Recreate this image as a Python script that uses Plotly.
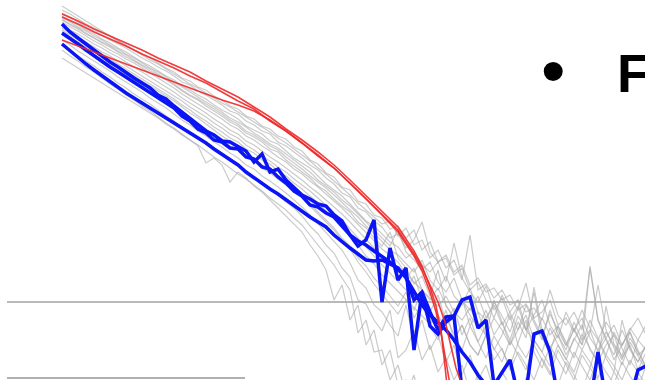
import plotly.graph_objects as go

# Level curves per frequency bin (level axis runs downward)
gray_runs = [
    [6,11,16,21,26,31,36,41,46,50, 55,60,64,69,74,79,84,88,93,98, 103,107,112,117,122,127,132,138,143,149,
     155,161,168,174,181,188,195,203,210,217, 224,221,236,
     228,245,240,258,250,268,260,280,235,290,284,298,290,305,300,312,308,320,290,315,325,312,330,268,320,338,325,345,330,318,335],
    [10,14,19,24,28,32,36,41,45,50, 54,58,63,68,72,78,81,87,90,96, 100,106,109,116,119,126,129,136,139,147,
     151,160,164,173,177,187,190,201,204,215, 218,229,226,
     238,230,250,242,262,255,272,265,285,278,292,288,300,295,310,304,318,312,300,325,318,332,310,328,340,322,335,346,328,340,350],
    [13,17,22,27,31,35,40,44,48,53, 58,62,67,71,76,82,85,91,95,100, 105,111,114,121,125,131,134,142,146,152,
     158,165,170,178,184,193,197,208,212,221, 227,238,234,
     248,240,222,252,262,258,275,268,290,282,300,318,295,312,330,305,322,340,310,335,350,328,345,320,338,355,332,348,365,340,325],
    [16,21,25,30,34,39,43,48,52,57, 62,66,71,76,80,86,90,95,99,105, 110,114,119,126,130,134,141,144,151,158,
     163,168,176,184,190,196,204,212,221,226, 234,242,247,
     258,252,265,272,262,282,243,278,292,302,286,310,298,320,306,330,315,300,325,338,312,330,345,266,320,340,355,330,348,362,345],
    [17,22,27,31,36,40,45,49,54,58, 63,68,72,77,82,87,92,97,102,107, 112,118,122,127,133,138,144,148,154,160,
     166,172,180,186,192,200,206,214,222,230, 237,246,229,
     252,260,270,262,282,292,278,300,310,296,318,305,325,312,300,330,340,318,335,326,345,330,318,338,350,332,345,360,338,352,366],
    [19,24,28,33,38,42,46,51,55,60, 65,69,74,79,84,90,95,99,104,109, 114,120,124,131,135,140,146,150,157,163,
     169,176,182,188,195,203,210,217,226,233, 242,250,255,
     264,272,260,280,290,276,296,305,288,312,320,302,316,332,308,283,320,336,314,330,346,322,340,330,352,338,360,345,332,355,348],
    [22,27,31,36,41,45,50,54,59,63, 68,73,78,83,88,94,99,104,109,114, 119,125,129,136,140,146,151,157,162,169,
     174,181,187,194,201,208,216,224,233,240, 249,255,262,
     274,282,290,298,306,296,312,320,308,325,335,318,330,345,322,338,287,330,348,335,355,340,325,350,362,345,335,358,345,370,352],
    [25,30,34,39,44,48,53,57,62,67, 72,77,82,87,92,98,103,108,113,119, 124,130,134,141,145,151,157,162,168,174,
     180,187,193,200,207,214,222,231,240,248, 256,262,270,
     278,268,290,300,288,305,318,300,315,328,310,335,322,345,330,315,340,352,328,345,360,338,350,332,285,330,348,365,342,356,370],
    [28,33,38,42,47,52,56,61,66,71, 76,81,86,91,96,101,107,112,117,123, 128,134,138,145,150,156,161,167,172,179,
     185,191,198,206,213,220,229,238,248,256, 265,273,282,
     290,276,300,312,295,322,308,335,318,342,325,350,335,315,345,358,340,352,366,345,358,372,350,362,378,355,366,380,360,372,385],
    [30,35,40,45,50,54,59,64,69,74, 79,84,89,94,99,105,110,116,121,127, 132,138,142,149,153,160,164,171,176,183,
     189,196,203,211,219,226,236,245,256,264, 275,283,292,
     300,308,316,324,315,330,340,325,345,355,335,348,362,340,355,370,345,360,375,350,365,380,355,368,340,358,372,320,350,362,345],
    [35,40,45,50,55,60,65,70,75,80, 86,91,96,101,107,113,118,124,129,134, 139,146,150,157,161,168,173,179,185,191,
     198,206,214,222,230,240,249,262,272,284, 294,303,314,
     300,310,290,318,330,310,340,325,345,355,335,360,348,370,352,365,380,358,372,385,362,375,390,368,380,392,372,385,395,378,388],
    [40,45,51,56,61,66,71,77,82,87, 92,98,103,108,114,120,125,131,136,142, 147,153,158,165,169,176,181,187,193,200,
     207,215,224,232,242,250,263,280,288,305, 312,325,336,
     305,340,320,350,335,362,345,375,355,380,365,390,372,385,398,378,392,400,385,395,405,390,400,410,395,405,415,398,408,418,400],
    [45,50,56,61,66,72,77,83,88,94, 99,104,110,116,121,127,133,138,143,149, 154,160,165,172,177,183,189,195,202,208,
     216,226,234,245,253,268,277,300,304,320, 331,310,358,
     350,330,360,345,372,358,380,365,392,375,398,385,400,390,410,395,405,415,400,410,420,405,415,425,410,420,428,415,425,432,420],
    [50,56,61,67,72,78,84,89,95,100, 106,111,117,123,128,134,140,145,151,157, 162,168,174,179,185,191,198,204,210,218,
     225,235,245,255,265,278,290,333,320,352, 350,380,365,
     395,375,410,390,420,400,425,410,430,415,435,420,438,425,440,430,442,432,444,434,446,436,448,438,450,440,452,442,454,444,456],
    [58,63,68,73,78,83,88,93,98,103, 108,113,118,124,129,135,140,146,163,158, 165,182,172,178,186,192,200,207,215,223,
     232,245,256,270,300,285,320,305,345,330, 365,350,385,
     380,400,390,410,395,420,405,425,410,430,415,435,420,438,425,440,430,442,432,444,434,446,436,448,438,450,440,452,442,454,444],
    [20,25,29,34,38,43,47,52,57,61, 66,71,75,80,85,91,96,100,106,111, 116,122,126,133,137,142,149,152,160,166,
     172,178,186,191,199,206,212,222,228,238, 246,232,258,
     268,284,276,296,270,306,318,298,326,312,336,300,322,340,316,330,292,338,352,326,342,358,334,348,362,306,344,356,332,350,368],
    [32,37,42,47,52,57,62,66,71,76, 81,86,91,96,101,107,113,118,124,130, 136,141,146,153,158,165,170,177,182,190,
     196,204,212,220,228,238,246,258,266,278, 286,296,306,
     292,318,304,326,340,318,334,350,326,342,358,336,350,366,344,320,352,368,346,360,374,352,366,380,358,372,384,362,376,388,366],
]

blue_runs = [
    [24,32,38,44,50,57,62,67,73,78, 83,88,95,99,106,112,119,125,131,135,
     141,142,147,151,162,154,172,169,180,187, 195,199,204,206,215,221,235,246,240,220,
     302,248,280,268,350,292,326,334,322,316, 390],
    [33,38,44,50,56,62,67,72,77,82, 87,92,97,103,108,116,121,129,133,140,
     142,148,149,157,159,167,169,177,183,191, 196,205,207,213,217,226,235,241,245,251,
     256,262,270,276,300,292,312,330,317,316, 300,297,328,320,385,372,360,395,392,334,
     331,352,398,405,405,405,405,352,400,405, 405,400,370,366],
    [44,51,58,64,70,76,82,87,93,98, 103,108,113,118,123,128,133,137,143,149,
     154,159,165,172,178,184,189,194,200,206, 212,217,222,227,235,242,248,254,260,261,
     260,264,268,278,292,305,315,322,330,340, 352,362,375,385,398],
]

red_bins_head = list(range(0, 45, 2))
red_runs = [
    (red_bins_head + [45, 46, 46.75, 47.375, 47.75, 48.125],
     [14,21,29,36,43,50,58,65,72,81,89,97,107,117,129,140,152,165,180,196,211,227,251,
      266,287,306,330,355,385]),
    (red_bins_head + [45, 46, 47, 48, 48.75, 49.25, 50],
     [17,24,32,39,46,54,61,68,76,83,92,101,109,121,131,143,156,168,183,199,214,230,254,
      268,285,302,325,350,368,385]),
    (red_bins_head + [45, 46, 46.75, 47.5, 48, 48.5],
     [40,46,52,58,64,70,76,82,88,94,100,105,111,120,131,143,155,168,183,199,215,232,256,
      271,292,312,338,360,385]),
]

reference_level = 302

fig = go.Figure()

for run in gray_runs:
    fig.add_trace(go.Scatter(
        x=list(range(len(run))), y=run, mode="lines",
        line=dict(color="rgba(168,168,168,0.6)", width=1.2),
        hoverinfo="skip", showlegend=False))

for run in blue_runs:
    fig.add_trace(go.Scatter(
        x=list(range(len(run))), y=run, mode="lines",
        line=dict(color="rgb(10,20,245)", width=3.5),
        hoverinfo="skip", showlegend=False))

for bins, run in red_runs:
    fig.add_trace(go.Scatter(
        x=bins, y=run, mode="lines",
        line=dict(color="rgba(238,40,40,0.9)", width=1.6),
        hoverinfo="skip", showlegend=False))

# horizontal reference level across the panel
fig.add_shape(type="line", xref="paper", yref="y",
              x0=7 / 645, x1=1, y0=reference_level, y1=reference_level,
              line=dict(color="rgb(185,185,185)", width=2), layer="below")
# lower frame segment
fig.add_shape(type="line", xref="paper", yref="paper",
              x0=7 / 645, x1=245 / 645, y0=2 / 380, y1=2 / 380,
              line=dict(color="rgb(150,150,150)", width=1.5), layer="below")

fig.add_annotation(text="•", xref="paper", yref="paper",
                   x=553 / 645, y=1 - 71 / 380, xanchor="center", yanchor="middle",
                   showarrow=False, font=dict(family="Liberation Sans", size=70, color="black"))
fig.add_annotation(text="<b>F</b>", xref="paper", yref="paper",
                   x=615 / 645, y=1 - 73 / 380, xanchor="left", yanchor="middle",
                   showarrow=False, font=dict(family="Liberation Sans", size=54, color="black"))

fig.update_layout(
    width=645, height=380,
    margin=dict(l=0, r=0, t=0, b=0),
    paper_bgcolor="white", plot_bgcolor="white",
    xaxis=dict(range=[-7.75, 72.875], visible=False, fixedrange=True),
    yaxis=dict(range=[380, 0], visible=False, fixedrange=True),
)

fig.write_html("out.html", config={"displayModeBar": False})
